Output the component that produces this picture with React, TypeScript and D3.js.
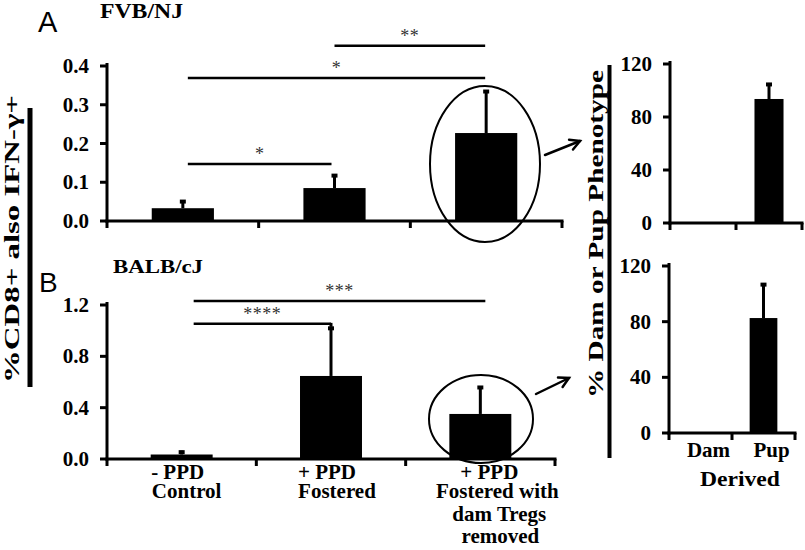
import React from "react";
import * as d3 from "d3";

// ---------- DATA ----------
const mainCats = ["Control", "Fostered", "Fostered with dam Tregs removed"];
const mainLabelLines = [
  ["- PPD", "Control"],
  ["+ PPD", "Fostered"],
  ["+ PPD", "Fostered with", "dam Tregs", "removed"],
];
const fvbMeans = [0.033, 0.085, 0.227];
const fvbErr = [0.021, 0.036, 0.111];
const balbMeans = [0.035, 0.647, 0.351];
const balbErr = [0.03, 0.383, 0.218];
const fvbTicks = [0, 0.1, 0.2, 0.3, 0.4];
const balbTicks = [0, 0.4, 0.8, 1.2];

const derivedCats = ["Dam", "Pup"];
const fvbDerivedMeans = [0, 93.6];
const fvbDerivedErr = [0, 12.1];
const balbDerivedMeans = [0, 82.6];
const balbDerivedErr = [0, 25.1];
const derivedTicks = [0, 40, 80, 120];

const fvbSig = [
  { a: 0, b: 1, y: 0.147, label: "*" },
  { a: 0, b: 2, y: 0.369, label: "*" },
  { a: 1, b: 2, y: 0.452, label: "**" },
];
const balbSig = [
  { a: 0, b: 2, y: 1.232, label: "***" },
  { a: 0, b: 1, y: 1.053, label: "****" },
];

const panelLetters = ["A", "B"];
const strainTitles = ["FVB/NJ", "BALB/cJ"];
const yTitleLeft = "%CD8+ also IFN-\u03b3+";
const yTitleRight = "% Dam or Pup Phenotype";
const derivedTitle = "Derived";

// ---------- STYLE ----------
const SERIF = "Liberation Serif, Times New Roman, Times, serif";
const SANS = "Liberation Sans, Arial, Helvetica, sans-serif";
const fmt1 = d3.format(".1f");
const serifBold = { fontFamily: SERIF, fontWeight: 700 } as React.CSSProperties;

type PanelProps = {
  cats: string[];
  means: number[];
  errs: number[];
  ticks: number[];
  tickFmt: (v: number) => string;
  x0: number;
  x1: number;
  yBase: number;
  yTop: number;
  yMax: number;
  barFrac: number;
};

function BarPanel(p: PanelProps) {
  const x = d3.scaleBand<string>().domain(p.cats).range([p.x0, p.x1]).padding(0);
  const y = d3.scaleLinear().domain([0, p.yMax]).range([p.yBase, p.yTop]);
  const bw = x.bandwidth() * p.barFrac;
  const bounds = [...p.cats.map((c) => x(c) as number), p.x1];
  return (
    <g>
      {p.cats.map((c, i) => {
        const cx = (x(c) as number) + x.bandwidth() / 2;
        const top = y(p.means[i]);
        return (
          <g key={c}>
            {p.means[i] > 0 && (
              <rect x={cx - bw / 2} y={top} width={bw} height={p.yBase - top} fill="#000" />
            )}
            {p.errs[i] > 0 && (
              <g>
                <line x1={cx} x2={cx} y1={top} y2={y(p.means[i] + p.errs[i])} stroke="#000" strokeWidth={3} />
                <line x1={cx - 3} x2={cx + 3} y1={y(p.means[i] + p.errs[i]) + 1.5} y2={y(p.means[i] + p.errs[i]) + 1.5} stroke="#000" strokeWidth={4} />
              </g>
            )}
          </g>
        );
      })}
      <line x1={p.x0} x2={p.x0} y1={p.yTop - 3} y2={p.yBase + 1.5} stroke="#000" strokeWidth={3} />
      {p.ticks.map((t) => (
        <g key={t}>
          <line x1={p.x0 - 7} x2={p.x0} y1={y(t)} y2={y(t)} stroke="#000" strokeWidth={3} />
          <text x={p.x0 - 18} y={y(t) + 7} textAnchor="end" style={serifBold} fontSize={21}>
            {p.tickFmt(t)}
          </text>
        </g>
      ))}
      <line x1={p.x0 - 1.5} x2={p.x1 + 1.5} y1={p.yBase} y2={p.yBase} stroke="#000" strokeWidth={3} />
      {bounds.map((b, i) => (
        <line key={i} x1={b} x2={b} y1={p.yBase} y2={p.yBase + 7} stroke="#000" strokeWidth={3} />
      ))}
    </g>
  );
}

function SigLines({ sig, cats, x0, x1, yBase, yTop, yMax, offs, means, errs }: any) {
  const x = d3.scaleBand<string>().domain(cats).range([x0, x1]).padding(0);
  const y = d3.scaleLinear().domain([0, yMax]).range([yBase, yTop]);
  const cx = (i: number) => (x(cats[i]) as number) + x.bandwidth() / 2;
  return (
    <g>
      {sig.map((s: any, k: number) => {
        const xa = cx(s.a) + offs[k][0];
        const xb = cx(s.b) + offs[k][1];
        const yy = y(s.y);
        const errTop = y(means[s.b] + errs[s.b]);
        return (
          <g key={k}>
            <line x1={xa} x2={xb} y1={yy} y2={yy} stroke="#000" strokeWidth={2.5} />
            {offs[k][2] && <line x1={xb} x2={xb} y1={yy - 1} y2={errTop} stroke="#000" strokeWidth={3} />}
            <text x={(xa + xb) / 2} y={yy - 4} textAnchor="middle" style={{ fontFamily: SERIF }} fontSize={18} fill="#333" letterSpacing={0.5}>
              {s.label}
            </text>
          </g>
        );
      })}
    </g>
  );
}

function Arrow({ x1, y1, x2, y2 }: any) {
  const ang = Math.atan2(y2 - y1, x2 - x1);
  const L = 11;
  const a1 = ang + Math.PI - 0.5;
  const a2 = ang + Math.PI + 0.5;
  return (
    <g stroke="#000" strokeWidth={2.5} fill="none" strokeLinecap="round">
      <line x1={x1} y1={y1} x2={x2} y2={y2} />
      <polyline points={`${x2 + L * Math.cos(a1)},${y2 + L * Math.sin(a1)} ${x2},${y2} ${x2 + L * Math.cos(a2)},${y2 + L * Math.sin(a2)}`} />
    </g>
  );
}

export default function App() {
  const A = { x0: 107, x1: 562, yBase: 221, yTop: 66, yMax: 0.4 };
  const B = { x0: 107, x1: 555, yBase: 459, yTop: 305, yMax: 1.2 };
  const RA = { x0: 670, x1: 802, yBase: 223, yTop: 64, yMax: 120 };
  const RB = { x0: 669, x1: 795, yBase: 433, yTop: 266, yMax: 120 };

  const xB = d3.scaleBand<string>().domain(mainCats).range([B.x0, B.x1]).padding(0);
  const xRB = d3.scaleBand<string>().domain(derivedCats).range([RB.x0, RB.x1]).padding(0);
  const labelDx = [[-4, 5], [-4, 6], [9, 17, 19, 20]];
  const lineYs = [479, 498, 521, 543];

  return (
    <svg width={805} height={550} style={{ position: "absolute", left: 0, top: 0, background: "#fff" }}>
      <rect width={805} height={550} fill="#fff" />
      <text x={38} y={32} style={{ fontFamily: SANS }} fontSize={29}>{panelLetters[0]}</text>
      <text x={39} y={292} style={{ fontFamily: SANS }} fontSize={28}>{panelLetters[1]}</text>
      <text x={100} y={18} style={serifBold} fontSize={20} textLength={83} lengthAdjust="spacingAndGlyphs">{strainTitles[0]}</text>
      <text x={113} y={273} style={serifBold} fontSize={19} textLength={90} lengthAdjust="spacingAndGlyphs">{strainTitles[1]}</text>

      <text transform="translate(19,239) rotate(-90)" textAnchor="middle" style={serifBold} fontSize={20} textLength={288} lengthAdjust="spacingAndGlyphs">{yTitleLeft}</text>
      <line x1={30} x2={30} y1={108} y2={387} stroke="#000" strokeWidth={5} />

      <text transform="translate(603,234) rotate(-90)" textAnchor="middle" style={serifBold} fontSize={20} textLength={328} lengthAdjust="spacingAndGlyphs">{yTitleRight}</text>
      <line x1={609.5} x2={609.5} y1={65} y2={458} stroke="#000" strokeWidth={4} />

      <BarPanel cats={mainCats} means={fvbMeans} errs={fvbErr} ticks={fvbTicks} tickFmt={fmt1} {...A} barFrac={0.41} />
      <BarPanel cats={mainCats} means={balbMeans} errs={balbErr} ticks={balbTicks} tickFmt={fmt1} {...B} barFrac={0.415} />
      <BarPanel cats={derivedCats} means={fvbDerivedMeans} errs={fvbDerivedErr} ticks={derivedTicks} tickFmt={(v) => String(v)} {...RA} barFrac={0.44} />
      <BarPanel cats={derivedCats} means={balbDerivedMeans} errs={balbDerivedErr} ticks={derivedTicks} tickFmt={(v) => String(v)} {...RB} barFrac={0.44} />

      <SigLines sig={fvbSig} cats={mainCats} {...A} means={fvbMeans} errs={fvbErr} offs={[[5, -3, false], [5, -1, false], [0, -1, false]]} />
      <SigLines sig={balbSig} cats={mainCats} {...B} means={balbMeans} errs={balbErr} offs={[[12, 5, false], [12, 0, true]]} />

      <ellipse cx={485} cy={164} rx={55} ry={78} fill="none" stroke="#000" strokeWidth={2} />
      <ellipse cx={481} cy={419} rx={52} ry={44} fill="none" stroke="#000" strokeWidth={2} />
      <Arrow x1={545} y1={155} x2={580} y2={141} />
      <Arrow x1={536} y1={394} x2={569} y2={378} />

      {mainCats.map((c, i) => {
        const cx = (xB(c) as number) + xB.bandwidth() / 2;
        return mainLabelLines[i].map((t, j) => (
          <text key={c + j} x={cx + labelDx[i][j]} y={lineYs[j]} textAnchor="middle" style={serifBold} fontSize={21}>
            {t}
          </text>
        ));
      })}

      {derivedCats.map((c) => (
        <text key={c} x={(xRB(c) as number) + xRB.bandwidth() / 2 + 8} y={457} textAnchor="middle" style={serifBold} fontSize={21}>
          {c}
        </text>
      ))}
      <text x={740} y={486} textAnchor="middle" style={serifBold} fontSize={21} textLength={80} lengthAdjust="spacingAndGlyphs">{derivedTitle}</text>
    </svg>
  );
}
